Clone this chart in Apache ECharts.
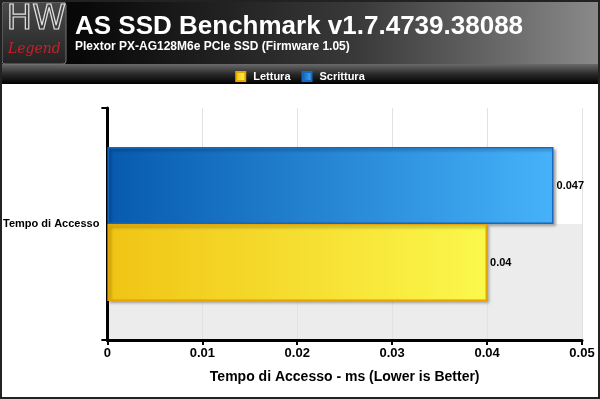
<!DOCTYPE html>
<html>
<head>
<meta charset="utf-8">
<script src="https://cdn.jsdelivr.net/npm/echarts@6/dist/echarts.min.js"></script>
<style>
html, body { margin: 0; padding: 0; background: #fff; }
#main { width: 600px; height: 399px; }
</style>
</head>
<body>
<div id="main"></div>
<script>
// dati
var categories = ['Tempo di Accesso'];
var lettura = [0.04];
var scrittura = [0.047];
var seriesNames = ['Lettura', 'Scrittura'];

var myChart = echarts.init(document.getElementById('main'));
var font = 'Liberation Sans, Arial, sans-serif';

var option = {
	backgroundColor: '#fff',
	animation: false,
	textStyle: { fontFamily: font },
	graphic: [
		// testata scura
		{ type: 'rect', z: -1, shape: { x: 0, y: 0, width: 600, height: 65 },
		  style: { fill: new echarts.graphic.LinearGradient(0, 0, 1, 0, [
			{ offset: 0, color: '#000' }, { offset: 0.15, color: '#0a0a0a' },
			{ offset: 0.6, color: '#3a3a3a' }, { offset: 1, color: '#8a8a8a' }]) } },
		// barra legenda
		{ type: 'rect', z: -1, shape: { x: 0, y: 64, width: 600, height: 20 },
		  style: { fill: new echarts.graphic.LinearGradient(0, 0, 0, 1, [
			{ offset: 0, color: '#6a6a6a' }, { offset: 0.5, color: '#2a2a2a' }, { offset: 1, color: '#000' }]) } },
		// logo
		{ type: 'rect', z: 0, shape: { x: 2, y: 2, width: 64, height: 62, r: 3 },
		  style: { fill: new echarts.graphic.LinearGradient(0, 0, 0, 1, [
			{ offset: 0, color: '#4a4a4a' }, { offset: 1, color: '#222' }]), stroke: '#777', lineWidth: 1 } },
		{ type: 'text', left: 6, top: 3, z: 1,
		  style: { text: 'HW', fill: 'rgba(0,0,0,0)', stroke: '#e0e0e0', lineWidth: 1.2, font: '34px "DejaVu Sans", sans-serif' } },
		{ type: 'text', left: 8, top: 42, z: 1,
		  style: { text: 'Legend', fill: '#c8202a', font: 'italic 14px "DejaVu Serif", serif' } },
		// bordo esterno
		{ type: 'rect', z: 10, shape: { x: 1, y: 1, width: 598, height: 397 },
		  style: { fill: 'none', stroke: '#222', lineWidth: 2 } }
	],
	title: {
		text: 'AS SSD Benchmark v1.7.4739.38088',
		subtext: 'Plextor PX-AG128M6e PCIe SSD (Firmware 1.05)',
		left: 70,
		top: 9,
		itemGap: 1,
		textStyle: { color: '#fff', fontSize: 26, fontWeight: 'bold', fontFamily: font },
		subtextStyle: { color: '#fff', fontSize: 12, fontWeight: 'bold', fontFamily: font }
	},
	legend: {
		data: seriesNames,
		top: 66,
		left: 'center',
		itemWidth: 9,
		itemHeight: 9,
		itemGap: 11,
		icon: 'rect',
		textStyle: { color: '#fff', fontSize: 11, fontWeight: 'bold', fontFamily: font, padding: [0, 0, 0, 3] }
	},
	grid: { left: 107, right: 18, top: 108, bottom: 59, containLabel: false },
	xAxis: {
		type: 'value',
		min: 0,
		max: 0.05,
		interval: 0.01,
		name: 'Tempo di Accesso - ms (Lower is Better)',
		nameLocation: 'middle',
		nameGap: 30,
		nameTextStyle: { color: '#000', fontSize: 14, fontWeight: 'bold', fontFamily: font },
		axisLine: { show: true, lineStyle: { color: '#000', width: 3 } },
		axisTick: { show: true, length: 5, lineStyle: { color: '#000', width: 2 } },
		axisLabel: { color: '#000', fontSize: 13, fontWeight: 'bold', margin: 7, fontFamily: font },
		splitLine: { show: true, lineStyle: { color: '#e2e2e2', width: 1 } }
	},
	yAxis: [{
		type: 'category',
		data: categories,
		axisLine: { show: true, lineStyle: { color: '#000', width: 3 } },
		axisTick: { show: true, length: 6, lineStyle: { color: '#000', width: 2 } },
		axisLabel: { color: '#000', fontSize: 11, fontWeight: 'bold', margin: 8, fontFamily: font },
		splitLine: { show: false }
	}, {
		// fasce di sfondo
		type: 'value',
		min: 0,
		max: 2,
		interval: 1,
		axisLine: { show: false },
		axisTick: { show: false },
		axisLabel: { show: false },
		splitLine: { show: false },
		splitArea: { show: true, areaStyle: { color: ['#ececec', '#fff'] } }
	}],
	series: [{
		name: 'Scrittura',
		type: 'bar',
		data: scrittura,
		barWidth: 77,
		barGap: '0%',
		itemStyle: {
			color: new echarts.graphic.LinearGradient(0, 0, 1, 0, [
				{ offset: 0, color: '#075aae' }, { offset: 1, color: '#46b2fa' }]),
			borderColor: '#1868c0',
			borderWidth: 1.5,
			shadowColor: 'rgba(0,0,0,0.35)',
			shadowBlur: 3,
			shadowOffsetX: 2,
			shadowOffsetY: 2
		},
		label: { show: true, position: 'right', distance: 3, color: '#000', fontSize: 11, fontWeight: 'bold', fontFamily: font }
	}, {
		name: 'Lettura',
		type: 'bar',
		data: lettura,
		barWidth: 77,
		barGap: '0%',
		itemStyle: {
			color: new echarts.graphic.LinearGradient(0, 0, 1, 0, [
				{ offset: 0, color: '#f0c414' }, { offset: 1, color: '#fbf84c' }]),
			borderColor: '#e8a400',
			borderWidth: 1.5,
			shadowColor: 'rgba(0,0,0,0.35)',
			shadowBlur: 3,
			shadowOffsetX: 2,
			shadowOffsetY: 2
		},
		label: { show: true, position: 'right', distance: 3, color: '#000', fontSize: 11, fontWeight: 'bold', fontFamily: font }
	}]
};

myChart.setOption(option);
</script>
</body>
</html>
